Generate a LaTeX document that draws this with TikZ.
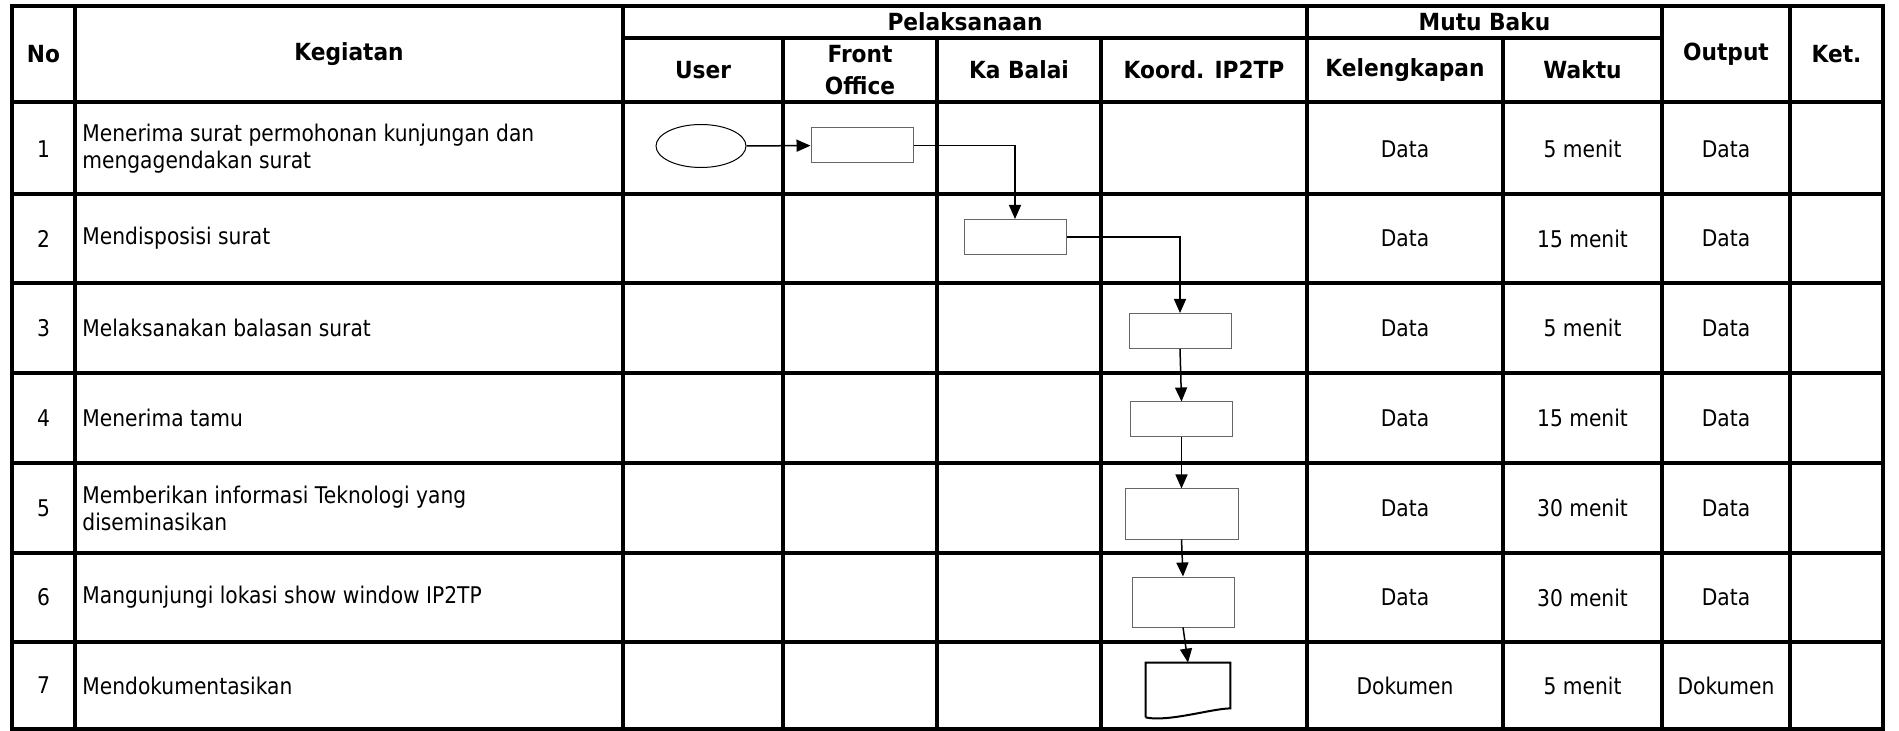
\documentclass[tikz,border=0pt]{standalone}
\usepackage{fontspec}
\setmainfont{DejaVu Sans}[FakeStretch=0.88]
\newfontfamily\headfont{DejaVu Sans}[FakeStretch=0.92]
\usetikzlibrary{arrows.meta,shapes.geometric}

\begin{document}
\begin{tikzpicture}[x=0.5pt, y=-0.5pt,
        tabline/.style={line width=1.6pt},
        tabborder/.style={line width=2.3pt},
        cell/.style={inner sep=0pt, font=\fontsize{11.5}{13.5}\selectfont},
        kegtext/.style={cell, anchor=west, align=left},
        head/.style={inner sep=0pt, align=center, font=\headfont\bfseries\fontsize{11.8}{16}\selectfont},
        proc/.style={draw=black!60, line width=0.5pt, inner sep=0pt, minimum width=51pt, minimum height=17.5pt},
        startbox/.style={ellipse, draw, line width=0.5pt, inner sep=0pt, minimum width=45pt, minimum height=21.5pt},
        docbox/.style={inner sep=0pt, minimum width=42pt, minimum height=27pt},
        flow/.style={line width=0.75pt, -{Triangle[length=7pt, width=6pt]}}]
        \useasboundingbox (0,0) rectangle (1899,731);

        \draw[tabline] (623,38) -- (1662,38);
        \draw[tabline] (12,102) -- (1883,102);
        \draw[tabline] (12,194) -- (1883,194);
        \draw[tabline] (12,283) -- (1883,283);
        \draw[tabline] (12,373) -- (1883,373);
        \draw[tabline] (12,463) -- (1883,463);
        \draw[tabline] (12,553) -- (1883,553);
        \draw[tabline] (12,642) -- (1883,642);

        \draw[tabline] (75,6) -- (75,729);
        \draw[tabline] (623,6) -- (623,729);
        \draw[tabline] (783,38) -- (783,729);
        \draw[tabline] (937,38) -- (937,729);
        \draw[tabline] (1101,38) -- (1101,729);
        \draw[tabline] (1307,6) -- (1307,729);
        \draw[tabline] (1503,38) -- (1503,729);
        \draw[tabline] (1662,6) -- (1662,729);
        \draw[tabline] (1790,6) -- (1790,729);
        \draw[tabborder] (12,6) rectangle (1883,729);

        \node[head] (hno) at (43.5,54) {No};
        \node[head] (hkeg) at (349,54) {Kegiatan};
        \node[head] (hpel) at (965,22) {Pelaksanaan};
        \node[head] (hmutu) at (1484.5,22) {Mutu Baku};
        \node[head] (hout) at (1726,54) {Output};
        \node[head] (hket) at (1836.5,54) {Ket.};
        \node[head] (huser) at (703,70) {User};
        \node[head] (hfo) at (860,70) {Front\\Office};
        \node[head] (hkb) at (1019,70) {Ka Balai};
        \node[head] (hkoord) at (1204,70) {Koord. IP2TP};
        \node[head] (hkel) at (1405,70) {Kelengkapan};
        \node[head] (hwkt) at (1582.5,70) {Waktu};

        \node[cell] (no1) at (43.5,149) {1};
        \node[cell] (no2) at (43.5,238.5) {2};
        \node[cell] (no3) at (43.5,328) {3};
        \node[cell] (no4) at (43.5,418) {4};
        \node[cell] (no5) at (43.5,508) {5};
        \node[cell] (no6) at (43.5,597.5) {6};
        \node[cell] (no7) at (43.5,685.5) {7};

        \node[kegtext] (keg1) at (82,149) {Menerima surat permohonan kunjungan dan\\mengagendakan surat};
        \node[kegtext] (keg2) at (82,238.5) {Mendisposisi surat};
        \node[kegtext] (keg3) at (82,328) {Melaksanakan balasan surat};
        \node[kegtext] (keg4) at (82,418) {Menerima tamu};
        \node[kegtext] (keg5) at (82,508) {Memberikan informasi Teknologi yang\\diseminasikan};
        \node[kegtext] (keg6) at (82,597.5) {Mangunjungi lokasi show window IP2TP};
        \node[kegtext] (keg7) at (82,685.5) {Mendokumentasikan};

        \node[cell] (kel1) at (1405,149) {Data};
        \node[cell] (kel2) at (1405,238.5) {Data};
        \node[cell] (kel3) at (1405,328) {Data};
        \node[cell] (kel4) at (1405,418) {Data};
        \node[cell] (kel5) at (1405,508) {Data};
        \node[cell] (kel6) at (1405,597.5) {Data};
        \node[cell] (kel7) at (1405,685.5) {Dokumen};

        \node[cell] (wkt1) at (1582.5,149) {5 menit};
        \node[cell] (wkt2) at (1582.5,238.5) {15 menit};
        \node[cell] (wkt3) at (1582.5,328) {5 menit};
        \node[cell] (wkt4) at (1582.5,418) {15 menit};
        \node[cell] (wkt5) at (1582.5,508) {30 menit};
        \node[cell] (wkt6) at (1582.5,597.5) {30 menit};
        \node[cell] (wkt7) at (1582.5,685.5) {5 menit};

        \node[cell] (out1) at (1726,149) {Data};
        \node[cell] (out2) at (1726,238.5) {Data};
        \node[cell] (out3) at (1726,328) {Data};
        \node[cell] (out4) at (1726,418) {Data};
        \node[cell] (out5) at (1726,508) {Data};
        \node[cell] (out6) at (1726,597.5) {Data};
        \node[cell] (out7) at (1726,685.5) {Dokumen};

        \node[startbox] (start) at (701,146) {};
        \node[proc] (p1) at (862,145.5) {};
        \node[proc] (p2) at (1015,237) {};
        \node[proc] (p3) at (1180,331) {};
        \node[proc] (p4) at (1181.5,419.5) {};
        \node[proc, minimum width=56.5pt, minimum height=25pt] (p5) at (1181.5,514) {};
        \node[proc, minimum height=25pt] (p6) at (1183,602) {};
        \node[docbox] (doc) at (1188,690) {};
        \draw[line width=1pt] (doc.south west) -- (doc.north west) -- (doc.north east) -- ([yshift=4.5pt]doc.south east)
            .. controls ([xshift=-9pt,yshift=4.5pt]doc.south east) and ([xshift=11pt,yshift=-2.5pt]doc.south west) .. (doc.south west);

        \draw[flow] (start) -- (p1);
        \draw[flow] (p1.east) -| (p2.north);
        \draw[flow] (p2.east) -| (p3.north);
        \draw[flow] (p3.south) -- (p4.north);
        \draw[flow] (p4.south) -- (p5.north);
        \draw[flow] (p5.south) -- (p6.north);
        \draw[flow] (p6.south) -- (doc.north);
    \end{tikzpicture}
\end{document}
